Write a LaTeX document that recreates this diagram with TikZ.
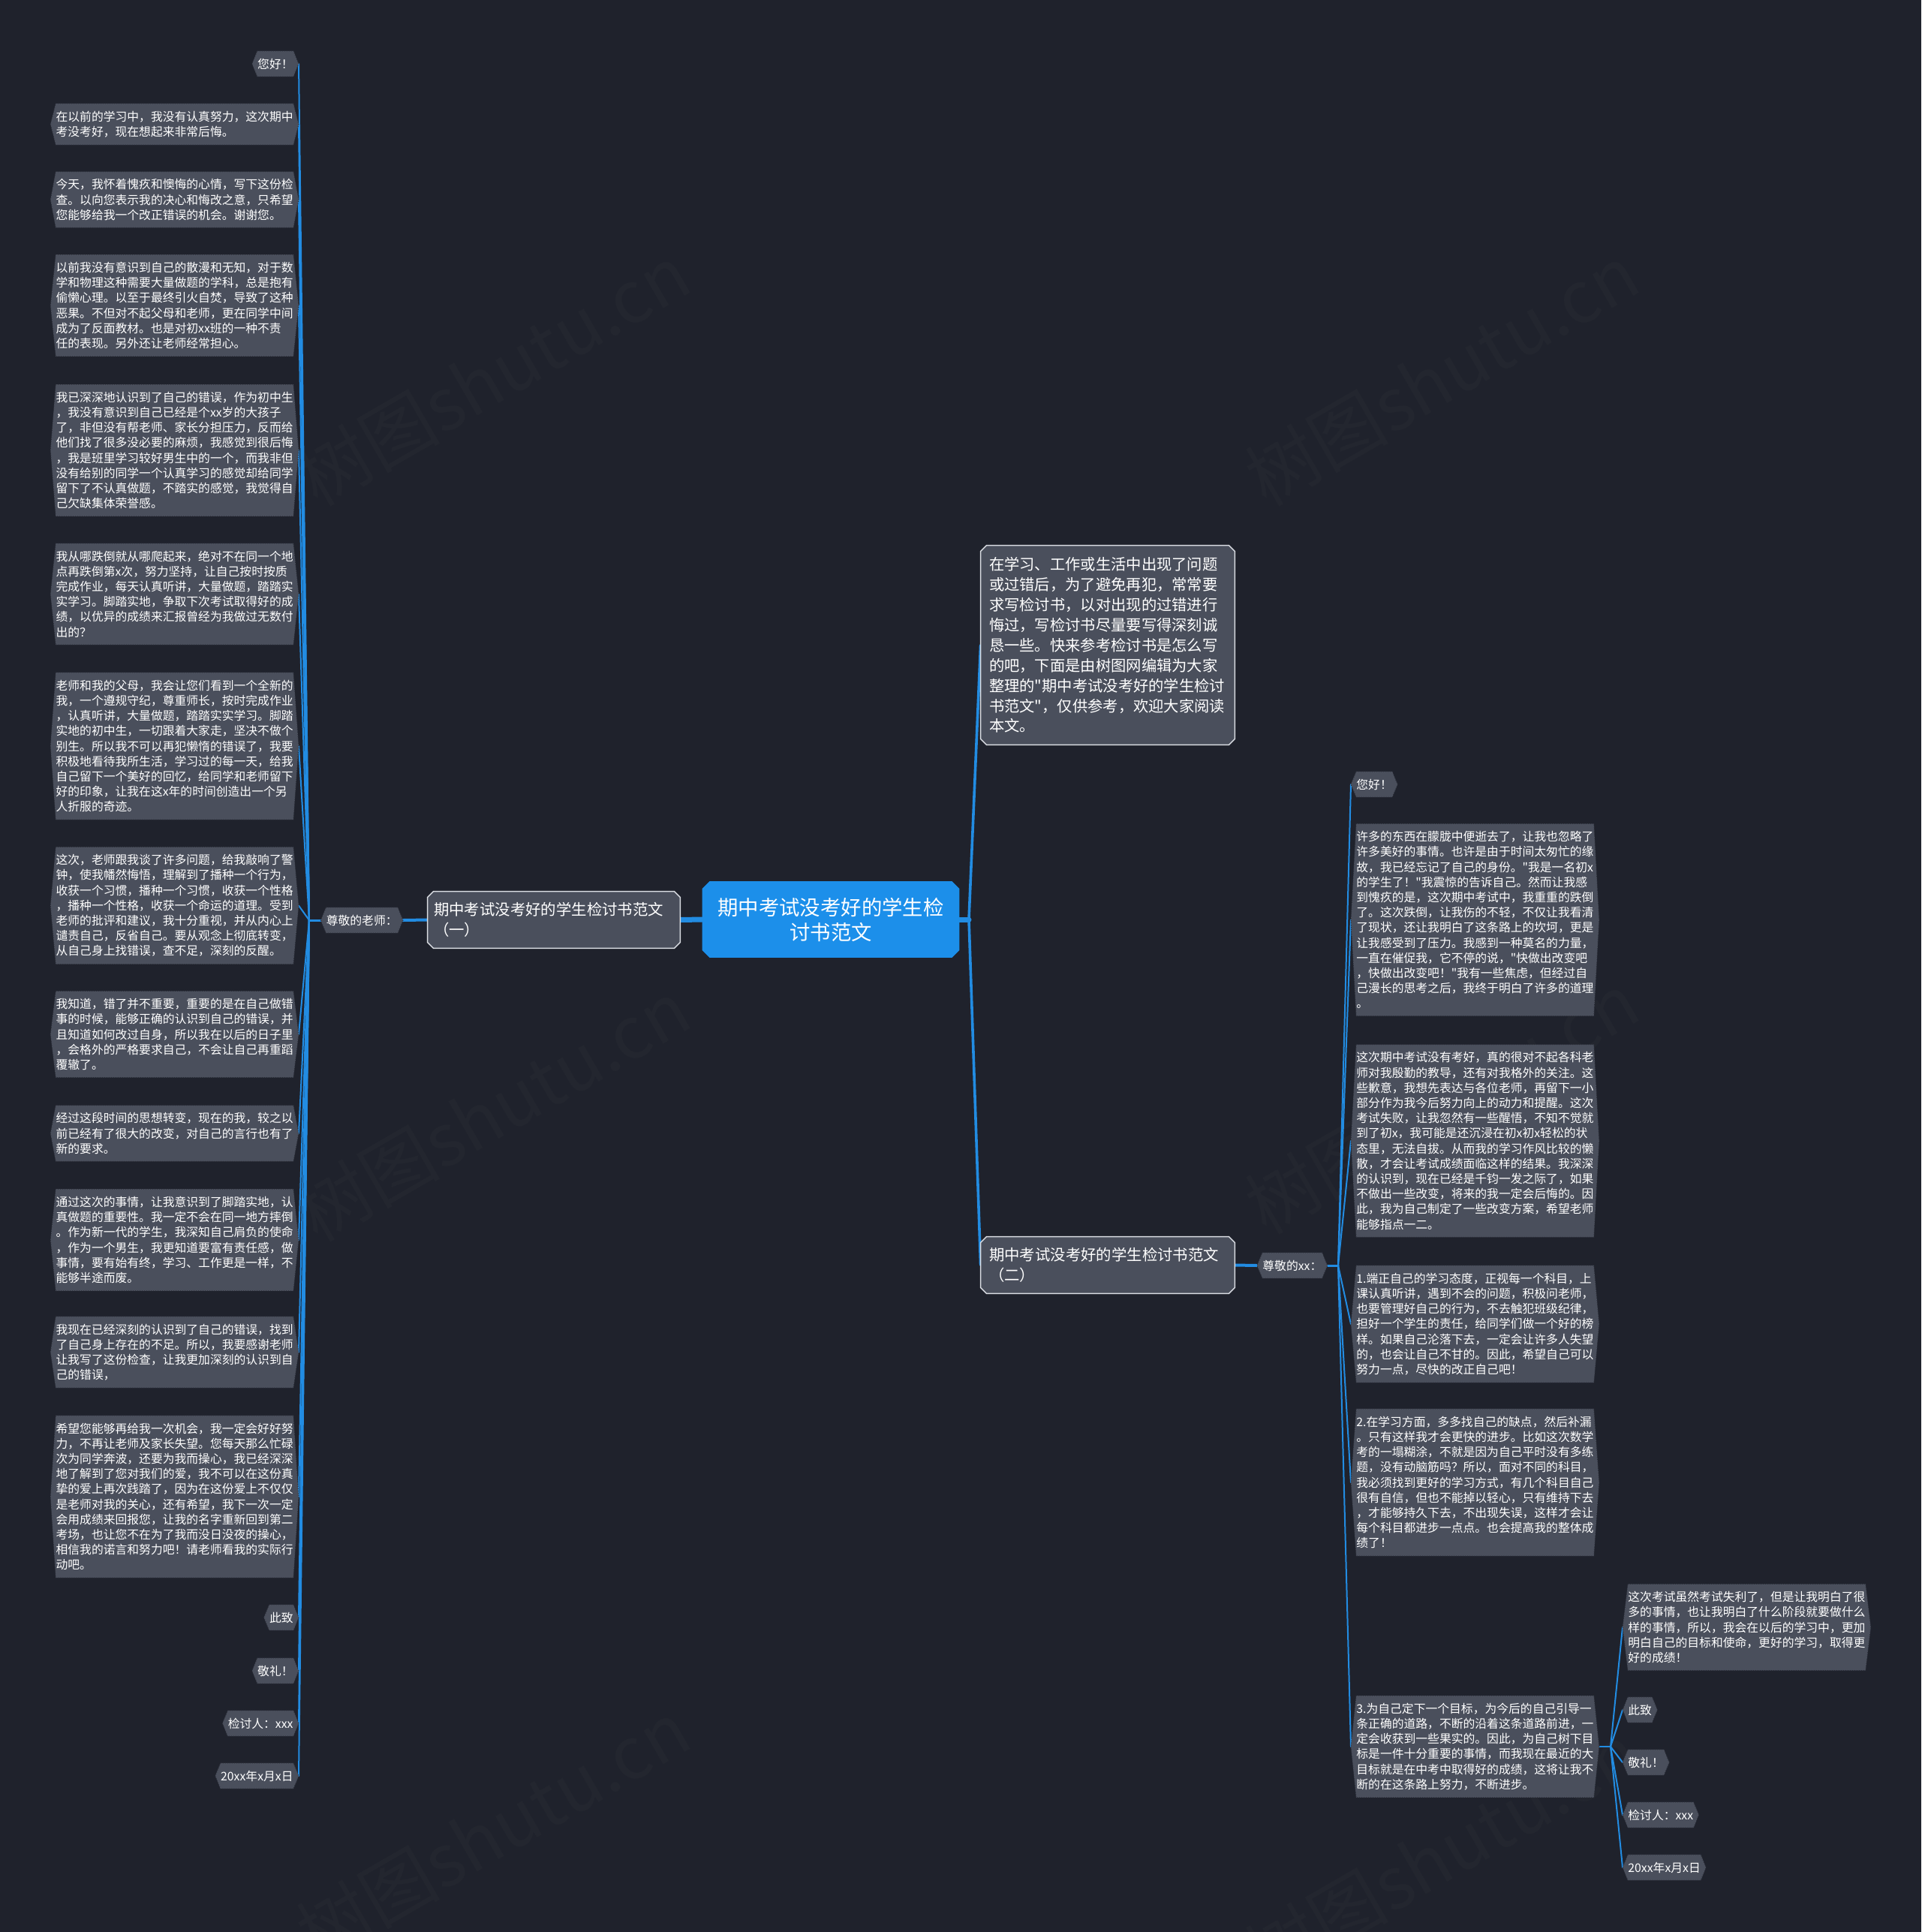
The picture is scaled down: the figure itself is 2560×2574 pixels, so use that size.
\documentclass[tikz,border=0pt]{standalone}
\usepackage{fontspec}
\newfontfamily\cjk{Noto Sans CJK SC}
\definecolor{bgc}{HTML}{1F222C}
\definecolor{boxc}{HTML}{4A4F5C}
\definecolor{boxline}{HTML}{2A2D37}
\definecolor{framec}{HTML}{DADDE3}
\definecolor{rootc}{HTML}{1C8FEA}
\definecolor{linkc}{HTML}{228CE2}
\definecolor{wmc}{HTML}{23262F}
\pgfdeclarelayer{wm}
\pgfdeclarelayer{edges}
\pgfdeclarelayer{bg}
\pgfsetlayers{wm,edges,bg,main}
\tikzset{
  leaf/.style={font=\cjk\fontsize{7.9}{10.1}\selectfont, text=white, align=left, inner xsep=3.5pt, inner ysep=4.75pt},
  bigtext/.style={font=\cjk\fontsize{10.2}{13.5}\selectfont, text=white, align=left, inner ysep=0pt},
  link/.style={draw=linkc, line cap=round, line join=round},
  boxshape/.style={fill=boxc, draw=boxline, densely dotted, line width=0.5pt},
  bigshape/.style={fill=boxc, draw=framec, line width=0.7pt},
  rootshape/.style={fill=rootc},
  wmark/.style={font=\cjk\fontsize{48}{50}\selectfont, text=wmc, rotate=30}
}
\newcommand{\hexbox}[1]{%
  \begin{pgfonlayer}{bg}
  \path[boxshape] ([xshift=3.5pt]#1.north west) -- ([xshift=-3.5pt]#1.north east) -- (#1.east)
    -- ([xshift=-3.5pt]#1.south east) -- ([xshift=3.5pt]#1.south west) -- (#1.west) -- cycle;
  \end{pgfonlayer}}
\newcommand{\octbox}[3]{%
  \begin{pgfonlayer}{bg}
  \path[#2] ([xshift=#3]#1.north west) -- ([xshift=-#3]#1.north east) -- ([yshift=-#3]#1.north east)
    -- ([yshift=#3]#1.south east) -- ([xshift=-#3]#1.south east) -- ([xshift=#3]#1.south west)
    -- ([yshift=#3]#1.south west) -- ([yshift=-#3]#1.north west) -- cycle;
  \end{pgfonlayer}}
\begin{document}
\begin{tikzpicture}[x=0.5pt,y=-0.5pt]
\useasboundingbox (0,0) rectangle (2560,2574);
\begin{pgfonlayer}{wm}
\fill[bgc] (0,0) rectangle (2560,2574);
\begin{scope}
\clip (0,0) rectangle (2560,2574);
\node[wmark] (w1) at (657,500) {树图shutu.cn};
\node[wmark] (w2) at (1921,500) {树图shutu.cn};
\node[wmark] (w3) at (657,1480) {树图shutu.cn};
\node[wmark] (w4) at (1921,1470) {树图shutu.cn};
\node[wmark] (w5) at (657,2440) {树图shutu.cn};
\node[wmark] (w6) at (1921,2470) {树图shutu.cn};
\end{scope}
\end{pgfonlayer}

% root
\node[font=\cjk\fontsize{13.7}{16.5}\selectfont, text=white, align=center, minimum width=171pt, minimum height=50.5pt, inner sep=0pt] (root) at (1107,1225) {期中考试没考好的学生检\\讨书范文};
\octbox{root}{rootshape}{5pt}

% branch 1
\node[bigtext, text width=160pt, inner xsep=4pt, minimum height=37.5pt] (b1) at (738,1225.5) {期中考试没考好的学生检讨书范文\\（一）};
\octbox{b1}{bigshape}{4pt}
\node[leaf, anchor=east] (t1) at (537,1226) {尊敬的老师：};
\hexbox{t1}

% intro
\node[font=\cjk\fontsize{10.15}{13.45}\selectfont, text=white, align=left, text width=158pt, inner xsep=5.5pt, inner ysep=0pt, minimum height=132.5pt] (intro) at (1476,859.5) {在学习、工作或生活中出现了问题\\或过错后，为了避免再犯，常常要\\求写检讨书，以对出现的过错进行\\悔过，写检讨书尽量要写得深刻诚\\恳一些。快来参考检讨书是怎么写\\的吧，下面是由树图网编辑为大家\\整理的"期中考试没考好的学生检讨\\书范文"，仅供参考，欢迎大家阅读\\本文。};
\octbox{intro}{bigshape}{4pt}

% branch 2
\node[bigtext, text width=158pt, inner xsep=5.5pt, minimum height=37.5pt] (b2) at (1476,1685.5) {期中考试没考好的学生检讨书范文\\（二）};
\octbox{b2}{bigshape}{4pt}
\node[leaf, anchor=west] (t2) at (1675,1686) {尊敬的xx：};
\hexbox{t2}

% left leaves
\node[leaf, anchor=east] (l1) at (398,85) {您好！};
\node[leaf, anchor=east] (l2) at (398,165.5) {在以前的学习中，我没有认真努力，这次期中\\考没考好，现在想起来非常后悔。};
\node[leaf, anchor=east] (l3) at (398,266) {今天，我怀着愧疚和懊悔的心情，写下这份检\\查。以向您表示我的决心和悔改之意，只希望\\您能够给我一个改正错误的机会。谢谢您。};
\node[leaf, anchor=east] (l4) at (398,407) {以前我没有意识到自己的散漫和无知，对于数\\学和物理这种需要大量做题的学科，总是抱有\\偷懒心理。以至于最终引火自焚，导致了这种\\恶果。不但对不起父母和老师，更在同学中间\\成为了反面教材。也是对初xx班的一种不责\\任的表现。另外还让老师经常担心。};
\node[leaf, anchor=east] (l5) at (398,600) {我已深深地认识到了自己的错误，作为初中生\\，我没有意识到自己已经是个xx岁的大孩子\\了，非但没有帮老师、家长分担压力，反而给\\他们找了很多没必要的麻烦，我感觉到很后悔\\，我是班里学习较好男生中的一个，而我非但\\没有给别的同学一个认真学习的感觉却给同学\\留下了不认真做题，不踏实的感觉，我觉得自\\己欠缺集体荣誉感。};
\node[leaf, anchor=east] (l6) at (398,791.5) {我从哪跌倒就从哪爬起来，绝对不在同一个地\\点再跌倒第x次，努力坚持，让自己按时按质\\完成作业，每天认真听讲，大量做题，踏踏实\\实学习。脚踏实地，争取下次考试取得好的成\\绩，以优异的成绩来汇报曾经为我做过无数付\\出的？};
\node[leaf, anchor=east] (l7) at (398,994) {老师和我的父母，我会让您们看到一个全新的\\我，一个遵规守纪，尊重师长，按时完成作业\\，认真听讲，大量做题，踏踏实实学习。脚踏\\实地的初中生，一切跟着大家走，坚决不做个\\别生。所以我不可以再犯懒惰的错误了，我要\\积极地看待我所生活，学习过的每一天，给我\\自己留下一个美好的回忆，给同学和老师留下\\好的印象，让我在这x年的时间创造出一个另\\人折服的奇迹。};
\node[leaf, anchor=east] (l8) at (398,1206.5) {这次，老师跟我谈了许多问题，给我敲响了警\\钟，使我幡然悔悟，理解到了播种一个行为，\\收获一个习惯，播种一个习惯，收获一个性格\\，播种一个性格，收获一个命运的道理。受到\\老师的批评和建议，我十分重视，并从内心上\\谴责自己，反省自己。要从观念上彻底转变，\\从自己身上找错误，查不足，深刻的反醒。};
\node[leaf, anchor=east] (l9) at (398,1378) {我知道，错了并不重要，重要的是在自己做错\\事的时候，能够正确的认识到自己的错误，并\\且知道如何改过自身，所以我在以后的日子里\\，会格外的严格要求自己，不会让自己再重蹈\\覆辙了。};
\node[leaf, anchor=east] (l10) at (398,1510) {经过这段时间的思想转变，现在的我，较之以\\前已经有了很大的改变，对自己的言行也有了\\新的要求。};
\node[leaf, anchor=east] (l11) at (398,1652) {通过这次的事情，让我意识到了脚踏实地，认\\真做题的重要性。我一定不会在同一地方摔倒\\。作为新一代的学生，我深知自己肩负的使命\\，作为一个男生，我更知道要富有责任感，做\\事情，要有始有终，学习、工作更是一样，不\\能够半途而废。};
\node[leaf, anchor=east] (l12) at (398,1801.5) {我现在已经深刻的认识到了自己的错误，找到\\了自己身上存在的不足。所以，我要感谢老师\\让我写了这份检查，让我更加深刻的认识到自\\己的错误，};
\node[leaf, anchor=east] (l13) at (398,1994) {希望您能够再给我一次机会，我一定会好好努\\力，不再让老师及家长失望。您每天那么忙碌\\次为同学奔波，还要为我而操心，我已经深深\\地了解到了您对我们的爱，我不可以在这份真\\挚的爱上再次践踏了，因为在这份爱上不仅仅\\是老师对我的关心，还有希望，我下一次一定\\会用成绩来回报您，让我的名字重新回到第二\\考场，也让您不在为了我而没日没夜的操心，\\相信我的诺言和努力吧！请老师看我的实际行\\动吧。};
\node[leaf, anchor=east] (l14) at (398,2155) {此致};
\node[leaf, anchor=east] (l15) at (398,2226) {敬礼！};
\node[leaf, anchor=east] (l16) at (398,2296) {检讨人：xxx};
\node[leaf, anchor=east] (l17) at (398,2366) {20xx年x月x日};
\foreach \n in {l1,l2,l3,l4,l5,l6,l7,l8,l9,l10,l11,l12,l13,l14,l15,l16,l17} {\hexbox{\n}}

% right leaves
\node[leaf, anchor=west] (r1) at (1800,1045) {您好！};
\node[leaf, anchor=west] (r2) at (1800,1225.5) {许多的东西在朦胧中便逝去了，让我也忽略了\\许多美好的事情。也许是由于时间太匆忙的缘\\故，我已经忘记了自己的身份。"我是一名初x\\的学生了！"我震惊的告诉自己。然而让我感\\到愧疚的是，这次期中考试中，我重重的跌倒\\了。这次跌倒，让我伤的不轻，不仅让我看清\\了现状，还让我明白了这条路上的坎坷，更是\\让我感受到了压力。我感到一种莫名的力量，\\一直在催促我，它不停的说，"快做出改变吧\\，快做出改变吧！"我有一些焦虑，但经过自\\己漫长的思考之后，我终于明白了许多的道理\\。};
\node[leaf, anchor=west] (r3) at (1800,1520) {这次期中考试没有考好，真的很对不起各科老\\师对我殷勤的教导，还有对我格外的关注。这\\些歉意，我想先表达与各位老师，再留下一小\\部分作为我今后努力向上的动力和提醒。这次\\考试失败，让我忽然有一些醒悟，不知不觉就\\到了初x，我可能是还沉浸在初x初x轻松的状\\态里，无法自拔。从而我的学习作风比较的懒\\散，才会让考试成绩面临这样的结果。我深深\\的认识到，现在已经是千钧一发之际了，如果\\不做出一些改变，将来的我一定会后悔的。因\\此，我为自己制定了一些改变方案，希望老师\\能够指点一二。};
\node[leaf, anchor=west] (r4) at (1800,1764) {1.端正自己的学习态度，正视每一个科目，上\\课认真听讲，遇到不会的问题，积极问老师，\\也要管理好自己的行为，不去触犯班级纪律，\\担好一个学生的责任，给同学们做一个好的榜\\样。如果自己沦落下去，一定会让许多人失望\\的，也会让自己不甘的。因此，希望自己可以\\努力一点，尽快的改正自己吧！};
\node[leaf, anchor=west] (r5) at (1800,1975) {2.在学习方面，多多找自己的缺点，然后补漏\\。只有这样我才会更快的进步。比如这次数学\\考的一塌糊涂，不就是因为自己平时没有多练\\题，没有动脑筋吗？所以，面对不同的科目，\\我必须找到更好的学习方式，有几个科目自己\\很有自信，但也不能掉以轻心，只有维持下去\\，才能够持久下去，不出现失误，这样才会让\\每个科目都进步一点点。也会提高我的整体成\\绩了！};
\node[leaf, anchor=west] (r6) at (1800,2327) {3.为自己定下一个目标，为今后的自己引导一\\条正确的道路，不断的沿着这条道路前进，一\\定会收获到一些果实的。因此，为自己树下目\\标是一件十分重要的事情，而我现在最近的大\\目标就是在中考中取得好的成绩，这将让我不\\断的在这条路上努力，不断进步。};
\foreach \n in {r1,r2,r3,r4,r5,r6} {\hexbox{\n}}

% sub leaves of 3.
\node[leaf, anchor=west] (s1) at (2162,2168) {这次考试虽然考试失利了，但是让我明白了很\\多的事情，也让我明白了什么阶段就要做什么\\样的事情，所以，我会在以后的学习中，更加\\明白自己的目标和使命，更好的学习，取得更\\好的成绩！};
\node[leaf, anchor=west] (s2) at (2162,2278) {此致};
\node[leaf, anchor=west] (s3) at (2162,2348) {敬礼！};
\node[leaf, anchor=west] (s4) at (2162,2418) {检讨人：xxx};
\node[leaf, anchor=west] (s5) at (2162,2488) {20xx年x月x日};
\foreach \n in {s1,s2,s3,s4,s5} {\hexbox{\n}}

% hubs
\coordinate (h0) at (1291,1225);
\coordinate (hL) at (412,1226);
\coordinate (hR) at (1783,1686);
\coordinate (h3) at (2146,2327);

\begin{pgfonlayer}{edges}
\draw[link, line width=3.5pt] (root.west) -- (b1.east);
\draw[link, line width=3.5pt] (root.east) -- (h0);
\draw[link, line width=1.8pt] (h0) -- (intro.west);
\draw[link, line width=1.8pt] (h0) -- (b2.west);
\draw[link, line width=2pt] (b1.west) -- (t1.east);
\draw[link, line width=2pt] (b2.east) -- (t2.west);
\draw[link, line width=1.5pt] (t1.west) -- (hL);
\draw[link, line width=1.5pt] (t2.east) -- (hR);
\foreach \n in {l1,l2,l3,l4,l5,l6,l7,l8,l9,l10,l11,l12,l13,l14,l15,l16,l17} {\draw[link, line width=1pt] (hL) -- (\n.east);}
\foreach \n in {r1,r2,r3,r4,r5,r6} {\draw[link, line width=1pt] (hR) -- (\n.west);}
\draw[link, line width=1.3pt] (r6.east) -- (h3);
\foreach \n in {s1,s2,s3,s4,s5} {\draw[link, line width=1pt] (h3) -- (\n.west);}
\end{pgfonlayer}
\end{tikzpicture}
\end{document}
